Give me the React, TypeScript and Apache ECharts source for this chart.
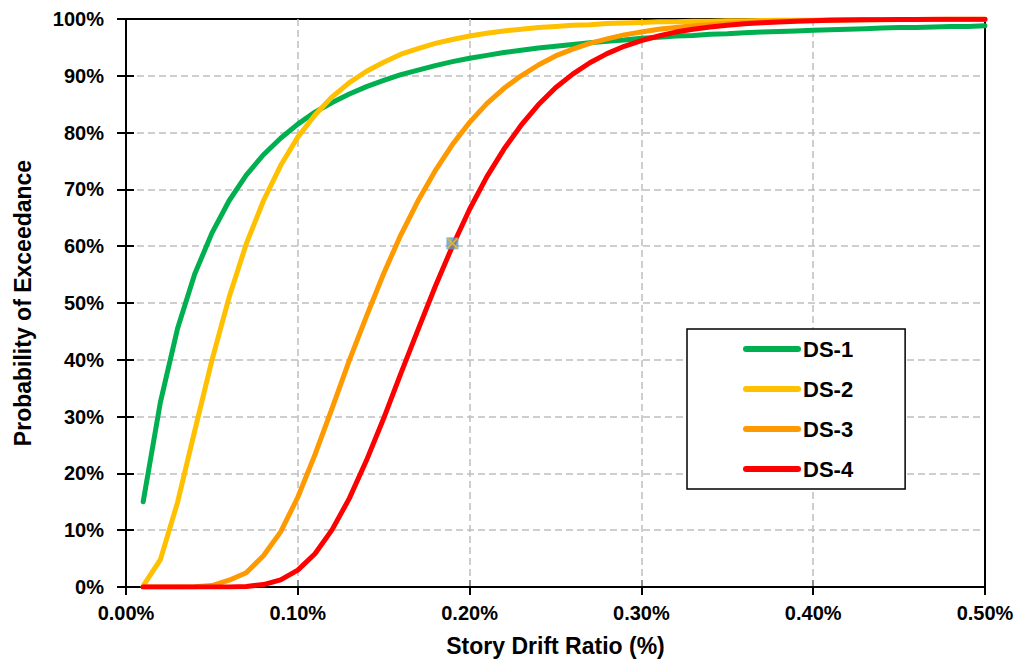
import React, { useEffect, useRef } from "react";
import * as echarts from "echarts";

const driftRatio = [
  0.01, 0.02, 0.03, 0.04, 0.05, 0.06, 0.07, 0.08, 0.09, 0.1,
  0.11, 0.12, 0.13, 0.14, 0.15, 0.16, 0.17, 0.18, 0.19, 0.2,
  0.21, 0.22, 0.23, 0.24, 0.25, 0.26, 0.27, 0.28, 0.29, 0.3,
  0.31, 0.32, 0.33, 0.34, 0.35, 0.36, 0.37, 0.38, 0.39, 0.4,
  0.41, 0.42, 0.43, 0.44, 0.45, 0.46, 0.47, 0.48, 0.49, 0.5,
];

const ds1 = [
  15.0, 32.5, 45.5, 55.1, 62.3, 68.0, 72.5, 76.1, 79.0, 81.5,
  83.6, 85.3, 86.8, 88.1, 89.2, 90.2, 91.0, 91.8, 92.5, 93.1,
  93.6, 94.1, 94.5, 94.9, 95.2, 95.5, 95.8, 96.1, 96.3, 96.6,
  96.8, 97.0, 97.1, 97.3, 97.4, 97.6, 97.7, 97.8, 97.9, 98.0,
  98.1, 98.2, 98.3, 98.4, 98.5, 98.5, 98.6, 98.7, 98.7, 98.8,
];

const ds2 = [
  0.2, 4.8, 14.9, 27.5, 39.9, 51.0, 60.4, 68.0, 74.2, 79.2,
  83.1, 86.3, 88.8, 90.8, 92.4, 93.8, 94.8, 95.7, 96.4, 97.0,
  97.5, 97.9, 98.2, 98.5, 98.7, 98.9, 99.0, 99.2, 99.3, 99.4,
  99.5, 99.5, 99.6, 99.6, 99.7, 99.7, 99.75, 99.8, 99.8, 99.8,
  99.85, 99.9, 99.9, 99.9, 99.9, 99.9, 99.95, 99.95, 99.95, 99.95,
];

const ds3 = [
  0, 0, 0, 0.03, 0.25, 1.2, 2.5, 5.5, 9.7, 15.8,
  23.3, 31.5, 39.9, 47.7, 55.2, 62.0, 68.0, 73.3, 77.9, 81.8,
  85.1, 87.8, 90.0, 91.9, 93.5, 94.7, 95.7, 96.5, 97.2, 97.7,
  98.2, 98.5, 98.8, 99.0, 99.2, 99.4, 99.5, 99.6, 99.67, 99.73,
  99.78, 99.82, 99.85, 99.88, 99.9, 99.92, 99.93, 99.94, 99.95, 99.96,
];

const ds4 = [
  0, 0, 0, 0, 0, 0.02, 0.1, 0.43, 1.26, 2.98,
  5.86, 10.1, 15.6, 22.3, 29.7, 37.6, 45.3, 52.9, 60.0, 66.5,
  72.2, 77.1, 81.3, 84.9, 87.9, 90.3, 92.3, 93.9, 95.2, 96.2,
  97.0, 97.7, 98.2, 98.6, 98.9, 99.15, 99.34, 99.49, 99.6, 99.69,
  99.76, 99.81, 99.85, 99.89, 99.91, 99.93, 99.95, 99.96, 99.97, 99.97,
];

const seriesNames = ["DS-1", "DS-2", "DS-3", "DS-4"];
const seriesColors = ["#00B050", "#FFC000", "#FF9900", "#FF0000"];
const seriesValues = [ds1, ds2, ds3, ds4];

const markerPoint = [0.19, 60.5];

const FONT = "'Liberation Sans', Arial, sans-serif";

export default function App() {
  const ref = useRef<HTMLDivElement>(null);

  useEffect(() => {
    if (!ref.current) return;
    const chart = echarts.init(ref.current, undefined, { renderer: "svg" });

    const lines = seriesNames.map((name, i) => ({
      name,
      type: "line",
      xAxisIndex: 0,
      yAxisIndex: 0,
      data: driftRatio.map((x, j) => [x, seriesValues[i][j]]),
      symbol: "none",
      smooth: false,
      color: seriesColors[i],
      lineStyle: { width: 5, color: seriesColors[i], cap: "round", join: "round" },
      z: 3 + i,
    }));

    const splitLineStyle = {
      show: true,
      showMinLine: false,
      showMaxLine: false,
      lineStyle: { color: "#BFBFBF", width: 1.5, type: [7, 4] },
    };

    const option: any = {
      animation: false,
      backgroundColor: "#ffffff",
      textStyle: { fontFamily: FONT },
      grid: {
        left: 126,
        right: 40,
        top: 19,
        bottom: 78,
        show: false,
      },
      legend: {
        show: true,
        data: seriesNames,
        orient: "vertical",
        left: 687,
        top: 329,
        padding: [9, 52, 9, 56],
        itemWidth: 52,
        itemHeight: 6,
        itemGap: 18,
        backgroundColor: "#fff",
        borderColor: "#000",
        borderWidth: 1.5,
        lineStyle: { width: 6, cap: "round" },
        textStyle: {
          fontFamily: FONT,
          fontSize: 22,
          fontWeight: "bold",
          color: "#000",
          lineHeight: 22,
        },
      },
      xAxis: [
        {
          type: "value",
          min: 0,
          max: 0.5,
          interval: 0.1,
          position: "bottom",
          name: "Story Drift Ratio (%)",
          nameLocation: "middle",
          nameGap: 47,
          nameTextStyle: { fontFamily: FONT, fontSize: 23, fontWeight: "bold", color: "#000" },
          axisLine: { show: true, onZero: false, lineStyle: { color: "#000", width: 2 } },
          axisTick: { show: true, inside: false, length: 8, lineStyle: { color: "#000", width: 2 } },
          axisLabel: {
            margin: 16,
            fontFamily: FONT,
            fontSize: 20,
            fontWeight: "bold",
            color: "#000",
            formatter: (v: number) => v.toFixed(2) + "%",
          },
          splitLine: splitLineStyle,
          z: 2,
        },
        {
          type: "value",
          min: 0,
          max: 0.5,
          interval: 0.1,
          position: "bottom",
          axisLine: { show: false },
          axisTick: { show: true, inside: true, length: 7, lineStyle: { color: "#000", width: 2 } },
          axisLabel: { show: false },
          splitLine: { show: false },
        },
        {
          type: "value",
          min: 0,
          max: 0.5,
          interval: 0.1,
          position: "top",
          axisLine: { show: true, onZero: false, lineStyle: { color: "#000", width: 2 } },
          axisTick: { show: false },
          axisLabel: { show: false },
          splitLine: { show: false },
        },
      ],
      yAxis: [
        {
          type: "value",
          min: 0,
          max: 100,
          interval: 10,
          position: "left",
          name: "Probability of Exceedance",
          nameLocation: "middle",
          nameRotate: 90,
          nameGap: 92,
          nameTextStyle: { fontFamily: FONT, fontSize: 23, fontWeight: "bold", color: "#000" },
          axisLine: { show: true, onZero: false, lineStyle: { color: "#000", width: 2 } },
          axisTick: { show: true, inside: false, length: 9, lineStyle: { color: "#000", width: 2 } },
          axisLabel: {
            margin: 22,
            fontFamily: FONT,
            fontSize: 20,
            fontWeight: "bold",
            color: "#000",
            formatter: (v: number) => v + "%",
          },
          splitLine: splitLineStyle,
        },
        {
          type: "value",
          min: 0,
          max: 100,
          interval: 10,
          position: "left",
          axisLine: { show: false },
          axisTick: { show: true, inside: true, length: 8, lineStyle: { color: "#000", width: 2 } },
          axisLabel: { show: false },
          splitLine: { show: false },
        },
        {
          type: "value",
          min: 0,
          max: 100,
          interval: 10,
          position: "right",
          axisLine: { show: true, onZero: false, lineStyle: { color: "#000", width: 2 } },
          axisTick: { show: false },
          axisLabel: { show: false },
          splitLine: { show: false },
        },
      ],
      series: [
        ...lines,
        {
          name: "marker",
          type: "scatter",
          data: [markerPoint],
          symbol: "rect",
          symbolSize: 12,
          itemStyle: { color: "#5B9BD5" },
          z: 10,
        },
        {
          name: "markerX",
          type: "scatter",
          data: [markerPoint],
          symbol: "path://M0,0L10,10M10,0L0,10",
          symbolSize: 10,
          itemStyle: { color: "none", borderColor: "#FFC000", borderWidth: 1.5 },
          z: 11,
        },
      ],
    };

    chart.setOption(option);
    return () => chart.dispose();
  }, []);

  return (
    <div
      ref={ref}
      style={{ position: "fixed", left: 0, top: 0, width: 1025, height: 665, background: "#fff" }}
    />
  );
}
